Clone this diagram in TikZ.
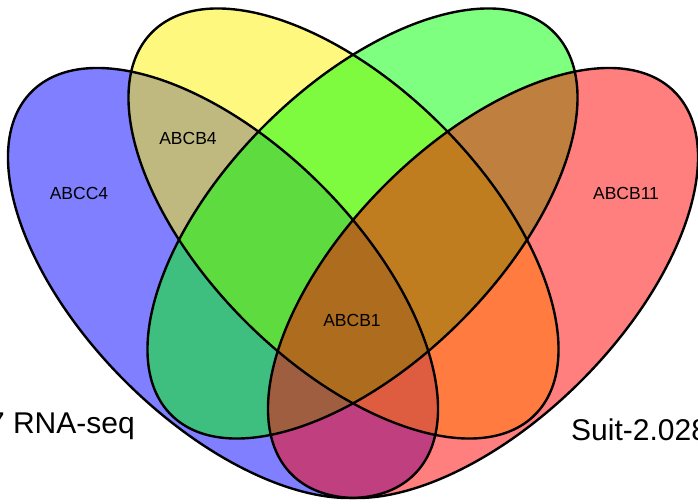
\documentclass[tikz,border=0pt]{standalone}
\usepackage{fontspec}
\setmainfont{Liberation Sans}
\begin{document}
\begin{tikzpicture}[x=1pt, y=-1pt]
\tikzstyle{set} = [fill opacity=0.5]
\tikzstyle{rim} = [draw=black, line width=2.4pt]
\tikzstyle{tag} = [inner sep=0pt, font=\fontsize{17.5}{20}\selectfont]
\tikzstyle{big} = [inner sep=0pt, font=\fontsize{30}{34}\selectfont]

\useasboundingbox (0,0) rectangle (698,503);

% the four sets, filled first
\fill[set, fill=blue, shift={(223,283)}, rotate=-45]
    (0,0) ellipse [x radius=270.6pt, y radius=138.6pt];
\fill[set, fill=yellow, shift={(343.5,223.5)}, rotate=-45]
    (0,0) ellipse [x radius=270.6pt, y radius=138.6pt];
\fill[set, fill=green, shift={(362.5,223.5)}, rotate=45]
    (0,0) ellipse [x radius=270.6pt, y radius=138.6pt];
\fill[set, fill=red, shift={(483,283)}, rotate=45]
    (0,0) ellipse [x radius=270.6pt, y radius=138.6pt];

% outlines on top
\draw[rim, shift={(223,283)}, rotate=-45]
    (0,0) ellipse [x radius=270.6pt, y radius=138.6pt];
\draw[rim, shift={(343.5,223.5)}, rotate=-45]
    (0,0) ellipse [x radius=270.6pt, y radius=138.6pt];
\draw[rim, shift={(362.5,223.5)}, rotate=45]
    (0,0) ellipse [x radius=270.6pt, y radius=138.6pt];
\draw[rim, shift={(483,283)}, rotate=45]
    (0,0) ellipse [x radius=270.6pt, y radius=138.6pt];

\node[tag] (abcc4) at (79,193) {ABCC4};
\node[tag] (abcb4) at (188,138) {ABCB4};
\node[tag] (abcb11) at (626,193) {ABCB11};
\node[tag] (abcb1) at (352,320.5) {ABCB1};

\node[big, anchor=base east] (rnaseq) at (135,433) {7 RNA-seq};
\node[big, anchor=base west] (suit) at (571,440) {Suit-2.028};
\end{tikzpicture}
\end{document}
